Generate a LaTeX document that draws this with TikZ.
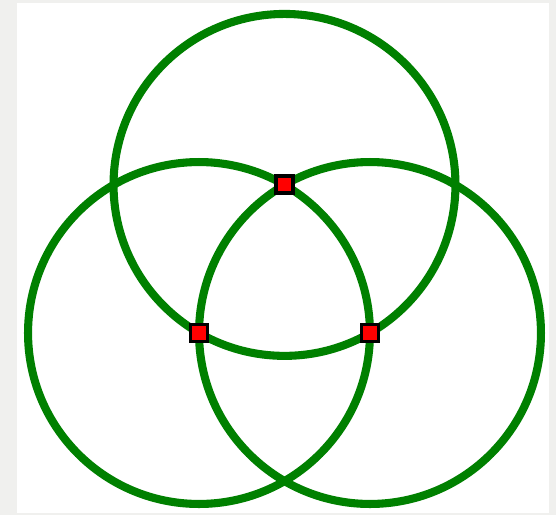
\documentclass[tikz,border=0pt]{standalone}
\usepackage{tikz}

\definecolor{ringgreen}{RGB}{0,128,0}
\definecolor{framegray}{RGB}{240,240,238}

\begin{document}
\begin{tikzpicture}[x=0.02cm, y=-0.02cm,
	ring/.style={draw=ringgreen, line width=4.6pt},
	centre/.style={draw=black, fill=red, line width=2.2pt, inner sep=0pt, minimum size=0.34cm, rectangle}]
	\fill[framegray] (0,0) rectangle (556,515);
	\fill[white] (17,3) rectangle (549,513);
	\useasboundingbox (0,0) rectangle (556,515);
	% centres of the three rings
	\coordinate (top) at (284.5,184.9);
	\coordinate (left) at (199,333);
	\coordinate (right) at (370,333);
	\foreach \c in {top,left,right} {\draw[ring] (\c) circle[radius=3.42cm];}
	\foreach \c in {top,left,right} {\node[centre] (\c-dot) at (\c) {};}
\end{tikzpicture}
\end{document}
